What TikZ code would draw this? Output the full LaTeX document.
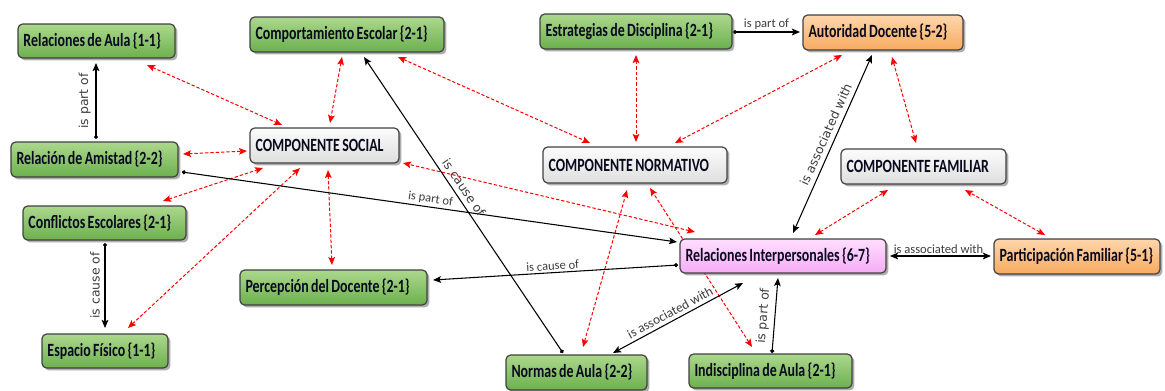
\documentclass[tikz,border=0pt]{standalone}
\usepackage{fontspec}
\usetikzlibrary{arrows.meta,shadows,backgrounds}
\newfontfamily\nodefam[FakeStretch=0.745, WordSpace=0.75]{Carlito}
\newfontfamily\lblfam{Carlito}
\newfontfamily\rotfam{DejaVu Sans}

\definecolor{edgegray}{RGB}{64,64,64}
\definecolor{lblgray}{RGB}{60,60,60}
\definecolor{nodetext}{RGB}{10,10,30}
\definecolor{gtop}{RGB}{172,216,140}
\definecolor{gbot}{RGB}{108,176,78}
\definecolor{otop}{RGB}{255,214,172}
\definecolor{obot}{RGB}{246,170,96}
\definecolor{ptop}{RGB}{255,222,255}
\definecolor{pbot}{RGB}{246,172,246}
\definecolor{wtop}{RGB}{252,252,252}
\definecolor{wbot}{RGB}{222,222,222}

% concept text: a fixed-width, left-aligned line that never wraps
\newcommand\cptext[1]{\makebox[\tw][l]{#1}}

\tikzset{
  box/.style={draw=edgegray, line width=0.9pt, rounded corners=3.5pt,
    inner xsep=3.4pt, inner ysep=0pt, text=nodetext,
    font=\nodefam\bfseries\fontsize{14}{15}\selectfont,
    drop shadow={shadow xshift=1.8pt, shadow yshift=-1.8pt, opacity=0.45, fill=black!70}},
  sz/.code 2 args={%
    \pgfmathsetlengthmacro\bw{#1*0.75pt}%
    \pgfmathsetlengthmacro\bh{#2*0.75pt}%
    \pgfmathsetlengthmacro\tw{(#1-11)*0.75pt}%
    \edef\tmp{\noexpand\tikzset{minimum width=\bw, minimum height=\bh}}\tmp},
  gfill/.style={top color=gtop, bottom color=gbot},
  ofill/.style={top color=otop, bottom color=obot},
  pfill/.style={top color=ptop, bottom color=pbot},
  wfill/.style={top color=wtop, bottom color=wbot},
  link/.style={draw=black, line width=0.8pt, {Circle[length=3pt]}-{Stealth[length=6pt,width=5pt,inset=1.2pt]}},
  bilink/.style={draw=black, line width=0.8pt, {Stealth[length=6pt,width=5pt,inset=1.2pt]}-{Stealth[length=6pt,width=5pt,inset=1.2pt]}},
  rel/.style={draw=red, line width=0.75pt, dash pattern=on 2.5pt off 1.5pt,
    {Stealth[length=6pt,width=5pt,inset=1.2pt]}-{Stealth[length=6pt,width=5pt,inset=1.2pt]}},
  lbl/.style={font=\lblfam\fontsize{9.4}{11}\selectfont, text=lblgray, inner sep=1.5pt, anchor=south},
  rlbl/.style={font=\rotfam\fontsize{9.3}{11}\selectfont, text=lblgray, inner xsep=1pt, inner ysep=3.5pt, anchor=south},
}

\begin{document}
\begin{tikzpicture}[x=0.75pt, y=-0.75pt]
\useasboundingbox (0,0) rectangle (1165,390);

% concepts
\node[box, gfill, sz={157}{34}] (ra) at (96.5,41) {\cptext{Relaciones de Aula \{1-1\}}};
\node[box, gfill, sz={194}{35}] (ce) at (347,34.5) {\cptext{Comportamiento Escolar \{2-1\}}};
\node[box, gfill, sz={192}{35}] (ed) at (636,31.5) {\cptext{Estrategias de Disciplina \{2-1\}}};
\node[box, ofill, sz={160}{35}] (ad) at (883,32.5) {\cptext{Autoridad Docente \{5-2\}}};
\node[box, gfill, sz={167}{35}] (am) at (94.5,159.5) {\cptext{Relación de Amistad \{2-2\}}};
\node[box, wfill, sz={149}{35}] (cs) at (324.5,145.5) {\cptext{COMPONENTE SOCIAL}};
\node[box, wfill, sz={184}{36}] (cn) at (635,165) {\cptext{COMPONENTE NORMATIVO}};
\node[box, wfill, sz={165}{35}] (cf) at (923.5,166.5) {\cptext{COMPONENTE FAMILIAR}};
\node[box, gfill, sz={163}{34}] (co) at (104.5,223) {\cptext{Conflictos Escolares \{2-1\}}};
\node[box, pfill, sz={206}{34}] (ri) at (783,256) {\cptext{Relaciones Interpersonales \{6-7\}}};
\node[box, ofill, sz={166}{35}] (pf) at (1077,256.5) {\cptext{Participación Familiar \{5-1\}}};
\node[box, gfill, sz={187}{35}] (pd) at (333.5,287.5) {\cptext{Percepción del Docente \{2-1\}}};
\node[box, gfill, sz={126}{34}] (ef) at (105,351) {\cptext{Espacio Físico \{1-1\}}};
\node[box, gfill, sz={141}{35}] (na) at (576.5,372.5) {\cptext{Normas de Aula \{2-2\}}};
\node[box, gfill, sz={163}{34}] (ia) at (770.5,371) {\cptext{Indisciplina de Aula \{2-1\}}};

\begin{pgfonlayer}{background}
% dashed component links
\draw[rel] ([shift={(50.5,24)}]ra.center) -- ([shift={(-42.5,-20.5)}]cs.center);
\draw[rel] ([shift={(-5,22.5)}]ce.center) -- ([shift={(5.5,-22.5)}]cs.center);
\draw[rel] ([shift={(88.5,-5.5)}]am.center) -- ([shift={(-77.5,5.5)}]cs.center);
\draw[rel] ([shift={(58.5,-22)}]co.center) -- ([shift={(-61.5,22.5)}]cs.center);
\draw[rel] ([shift={(23,-23)}]ef.center) -- ([shift={(-24.5,22.5)}]cs.center);
\draw[rel] ([shift={(-1.5,-22.5)}]pd.center) -- ([shift={(3.5,24.5)}]cs.center);
\draw[rel] ([shift={(-88,-24)}]ri.center) -- ([shift={(78.5,17.5)}]cs.center);
\draw[rel] ([shift={(51,22.5)}]ce.center) -- ([shift={(-45,-22)}]cn.center);
\draw[rel] ([shift={(0,23.5)}]ed.center) -- ([shift={(1,-23)}]cn.center);
\draw[rel] ([shift={(-41,22.5)}]ad.center) -- ([shift={(40,-22)}]cn.center);
\draw[rel] ([shift={(6.5,-25.5)}]na.center) -- ([shift={(-8,25)}]cn.center);
\draw[rel] ([shift={(-18.5,-24)}]ia.center) -- ([shift={(15,23)}]cn.center);
\draw[rel] ([shift={(9,24.5)}]ad.center) -- ([shift={(-7.5,-23.5)}]cf.center);
\draw[rel] ([shift={(32,-21)}]ri.center) -- ([shift={(-35.5,23.5)}]cf.center);
\draw[rel] ([shift={(-32,-21.5)}]pf.center) -- ([shift={(41.5,23.5)}]cf.center);

% labelled links
\draw[link] ([shift={(87.5,12.5)}]am.center) -- ([shift={(-106,-14)}]ri.center)
  node[lbl, pos=0.5, rotate=-8] {is part of};
\draw[link] ([shift={(1.5,-20.5)}]am.center) -- ([shift={(-0.5,22)}]ra.center)
  node[rlbl, pos=0.5, rotate=90] {is part of};
\draw[link] ([shift={(0.5,20)}]co.center) -- ([shift={(0,-23)}]ef.center)
  node[rlbl, pos=0.5, rotate=90] {is cause of};
\draw[link] ([shift={(-13.5,-19.5)}]na.center) -- ([shift={(17,22.5)}]ce.center)
  node[rlbl, pos=0.54, rotate=-56] {is cause of};
\draw[link] ([shift={(-105,9)}]ri.center) -- ([shift={(99.5,-7.5)}]pd.center)
  node[lbl, pos=0.51, rotate=3.5] {is cause of};
\draw[bilink] ([shift={(36.5,-19.5)}]na.center) -- ([shift={(-40,27)}]ri.center)
  node[lbl, pos=0.47, rotate=28.3, inner ysep=2.5pt, font=\lblfam\fontsize{10}{12}\selectfont] {is associated with};
\draw[link] ([shift={(1.5,-18)}]ia.center) -- ([shift={(-5,22)}]ri.center)
  node[rlbl, pos=0.48, rotate=85.4] {is part of};
\draw[bilink] ([shift={(10,-23)}]ri.center) -- ([shift={(-11,22.5)}]ad.center)
  node[rlbl, pos=0.53, rotate=66] {is associated with};
\draw[bilink] ([shift={(107,0)}]ri.center) -- ([shift={(-86,-0.5)}]pf.center)
  node[lbl, pos=0.48] {is associated with};
\draw[link] ([shift={(97,0.5)}]ed.center) -- ([shift={(-83,-0.5)}]ad.center)
  node[lbl, pos=0.5] {is part of};
\end{pgfonlayer}
\end{tikzpicture}
\end{document}
